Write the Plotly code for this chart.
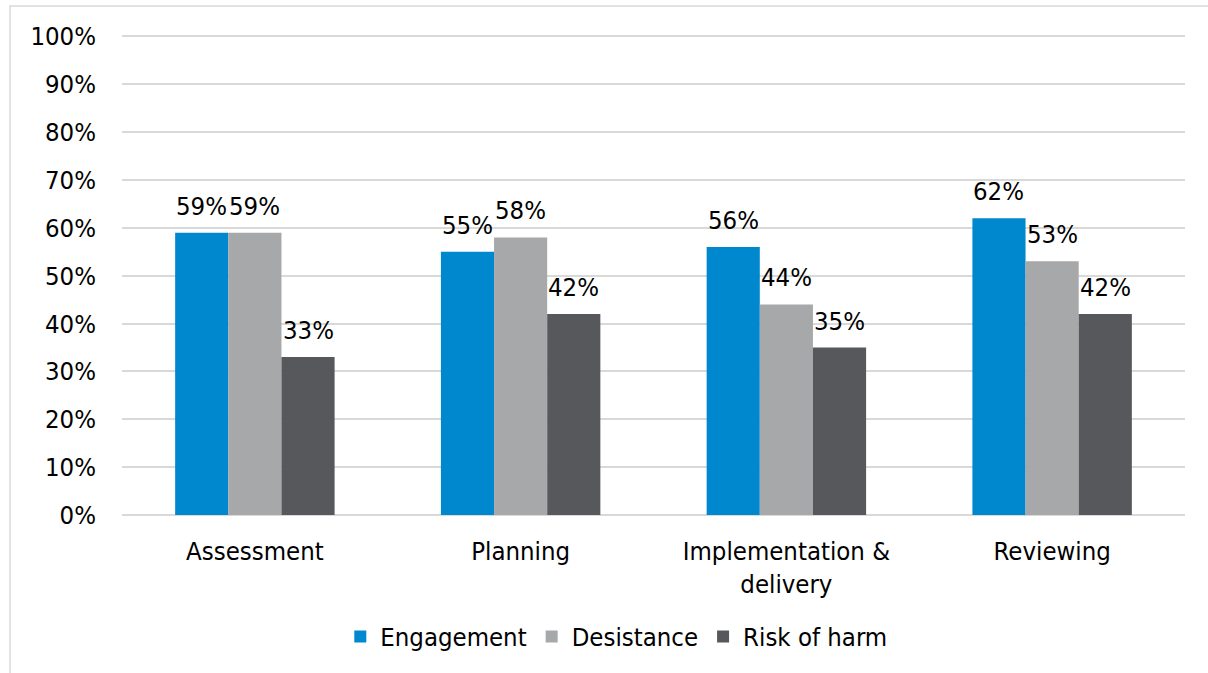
import plotly.graph_objects as go

categories = ["Assessment", "Planning", "Implementation &<br>delivery", "Reviewing"]
engagement = [59, 55, 56, 62]
desistance = [59, 58, 44, 53]
risk_of_harm = [33, 42, 35, 42]
y_ticks = list(range(0, 101, 10))
y_tick_labels = [f"{t}%" for t in y_ticks]

series = [
    ("Engagement", engagement, "#0088CE"),
    ("Desistance", desistance, "#A6A8A9"),
    ("Risk of harm", risk_of_harm, "#57585B"),
]

W, H = 1208, 673
ML, MR, MT, MB = 122, 23, 35, 158
BARGAP = 0.4
FONT = "DejaVu Sans Condensed, DejaVu Sans"
FS = 25.5

fig = go.Figure()
for name, vals, col in series:
    fig.add_trace(go.Bar(
        x=categories, y=vals, name=name,
        marker=dict(color=col, line=dict(width=0)),
    ))

# value labels above bars
bar_px = (W - ML - MR) / len(categories) * (1 - BARGAP) / len(series)
for i, (name, vals, col) in enumerate(series):
    for cat, v in zip(categories, vals):
        fig.add_annotation(x=cat, y=v, xref="x", yref="y", text=f"{v}%",
                           showarrow=False, yanchor="bottom",
                           xshift=(i - 1) * bar_px, yshift=10,
                           font=dict(family=FONT, size=FS, color="black"))

fig.update_layout(
    width=W, height=H,
    barmode="group", bargap=BARGAP, bargroupgap=0,
    paper_bgcolor="white", plot_bgcolor="white",
    font=dict(family=FONT, size=FS, color="black"),
    margin=dict(l=ML, r=MR, t=MT, b=MB),
    legend=dict(orientation="h", x=0.465, xanchor="center", y=-0.205, yanchor="top",
                font=dict(size=FS), traceorder="normal", itemwidth=30),
    showlegend=True,
)
fig.update_yaxes(range=[0, 100.3], tickvals=y_ticks, ticktext=y_tick_labels,
                 showgrid=True, gridcolor="#D9D9D9", gridwidth=1.5, zeroline=True,
                 zerolinecolor="#D9D9D9", zerolinewidth=1.5,
                 ticklabelstandoff=25, showline=False)
fig.update_xaxes(showgrid=False, showline=False, ticks="", ticklabelstandoff=18)

# chart area border
fig.add_shape(type="rect", xref="paper", yref="paper",
              x0=(10 - ML) / (W - ML - MR), x1=1.2,
              y0=-0.5, y1=(H - MB - 6) / (H - MT - MB),
              line=dict(color="#D9D9D9", width=1.5), layer="below")

fig.write_html("out.html", config={"displayModeBar": False},
               post_script="document.body.style.margin='0';")
